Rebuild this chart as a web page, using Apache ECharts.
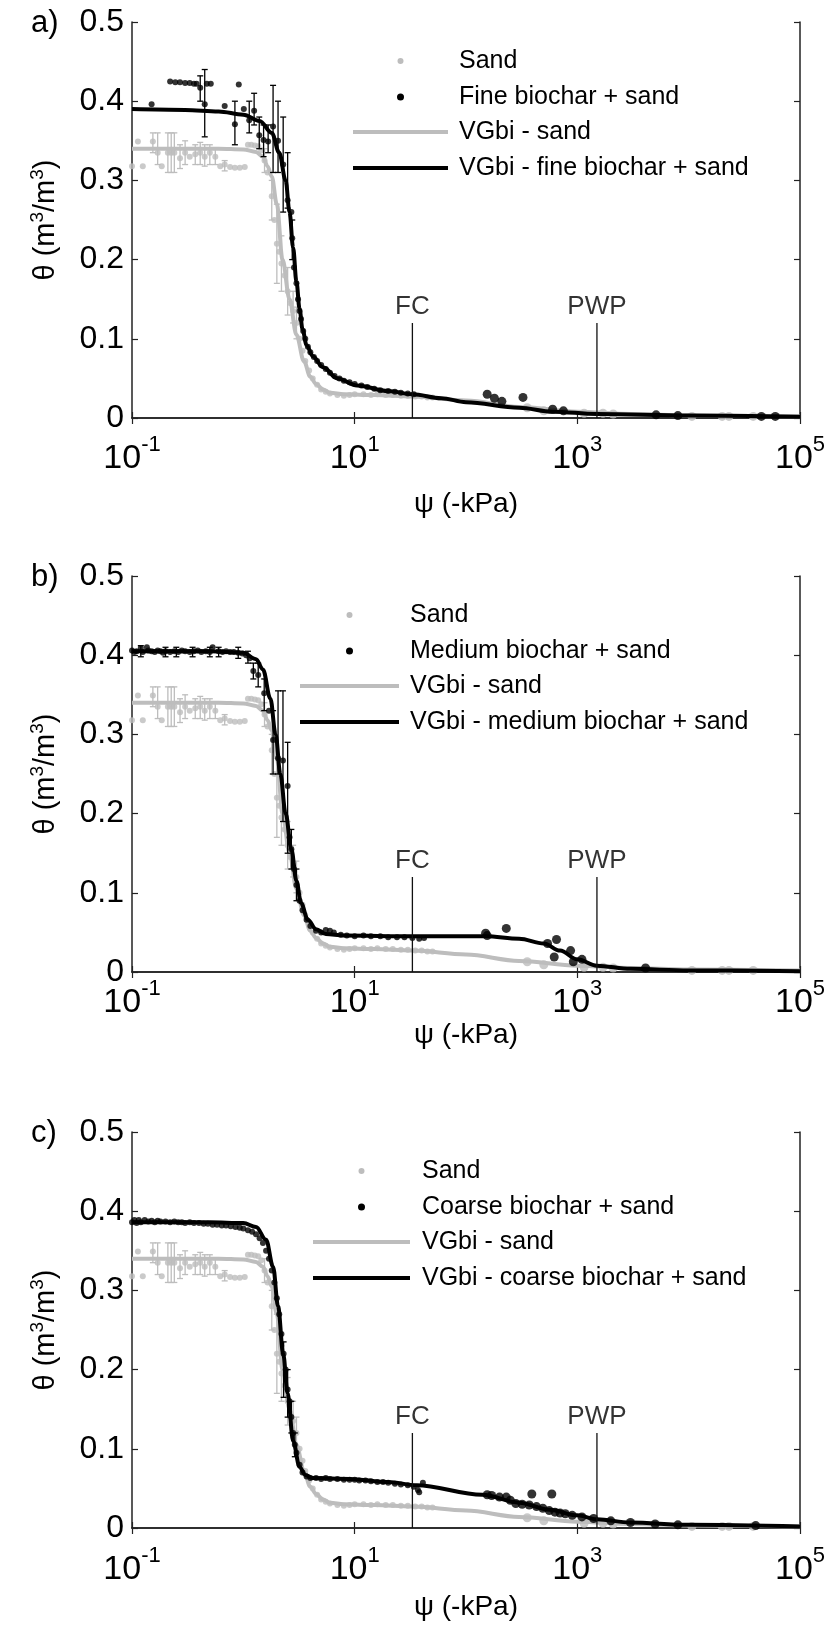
<!DOCTYPE html>
<html>
<head>
<meta charset="utf-8">
<script src="https://cdn.jsdelivr.net/npm/echarts@6/dist/echarts.min.js"></script>
<style>
  html, body { margin: 0; padding: 0; background: #fff; }
  #chart { width: 832px; height: 1629px; }
</style>
</head>
<body>
<div id="chart"></div>
<script>
// water retention: theta (m3/m3) vs psi (-kPa)
var panelLetters = ['a)', 'b)', 'c)'];
var biocharNames = ['Fine biochar + sand', 'Medium biochar + sand', 'Coarse biochar + sand'];
var fitNames = ['VGbi - fine biochar + sand', 'VGbi - medium biochar + sand', 'VGbi - coarse biochar + sand'];
var markerPsi = [33, 1500];
var markerNames = ['FC', 'PWP'];
var markerTop = 0.12;

// sand (same in every panel)
var sandPts = [[0.10,0.318],[0.113,0.349],[0.125,0.318],[0.154,0.349],[0.17,0.335],[0.185,0.318],[0.21,0.335],[0.225,0.335],
  [0.24,0.335],[0.27,0.328],[0.30,0.335],[0.33,0.330],[0.37,0.333],[0.41,0.335],[0.45,0.330],[0.50,0.335],[0.56,0.330],
  [0.62,0.318],[0.68,0.320],[0.76,0.317],[0.84,0.316],[0.93,0.316],[1.03,0.317],[1.10,0.345],[1.18,0.345],[1.27,0.344],
  [1.36,0.343],[1.45,0.338],[1.55,0.325],[1.65,0.31],[1.8,0.28],[1.9,0.25],[2.0,0.22],[2.1,0.21],[2.2,0.195],[2.35,0.18],
  [2.5,0.16],[2.65,0.145],[2.8,0.135],[3.0,0.12],[3.2,0.10],[3.4,0.085],[3.6,0.072],[3.9,0.06],[4.2,0.05],[4.6,0.042],
  [5.0,0.036],[5.5,0.033],[6,0.031],[7,0.029],[8,0.028],[9,0.029],[10,0.030],[12,0.030],[14,0.029],[16,0.030],[19,0.029],
  [22,0.029],[26,0.028],[30,0.028],[35,0.027],[40,0.027],[45,0.026],[50,0.026],
  [355,0.013],[500,0.009],[1150,0.006],[1700,0.006],[2100,0.005],[10700,0.002],[20000,0.002],[23000,0.002],[38000,0.002]];
var sandErr = [[0.154,0.335,0.36],[0.17,0.32,0.36],[0.21,0.31,0.36],[0.225,0.31,0.36],[0.24,0.31,0.36],[0.27,0.315,0.345],
  [0.30,0.32,0.35],[0.37,0.32,0.345],[0.41,0.32,0.348],[0.45,0.318,0.345],[0.50,0.32,0.345],[0.56,0.32,0.34],
  [0.68,0.312,0.325],[1.55,0.31,0.34],[1.8,0.25,0.30],[2.0,0.17,0.27],[2.2,0.16,0.23],[2.5,0.13,0.19],[2.8,0.12,0.16],[3.0,0.10,0.14]];
var sandFit = [[0.1,0.340],[0.3,0.340],[0.6,0.340],[1.0,0.339],[1.3,0.336],[1.5,0.330],[1.65,0.318],[1.8,0.305],[2.0,0.27],
  [2.25,0.20],[2.6,0.15],[3.0,0.105],[3.5,0.072],[4.0,0.052],[4.5,0.043],[5.2,0.036],[6,0.032],[8,0.030],[15,0.029],
  [33,0.027],[100,0.022],[300,0.014],[1000,0.008],[3000,0.005],[1e4,0.003],[1e5,0.002]];

// a) fine biochar
var finePts = [[0.15,0.396],[0.22,0.425],[0.245,0.424],[0.27,0.424],[0.30,0.423],[0.33,0.423],[0.36,0.422],[0.38,0.422],
  [0.41,0.417],[0.45,0.396],[0.47,0.422],[0.51,0.422],[0.68,0.394],[0.84,0.371],[0.91,0.421],[1.01,0.390],[1.13,0.376],
  [1.25,0.388],[1.39,0.357],[1.52,0.351],[1.67,0.349],[1.85,0.368],[2.05,0.350],[2.28,0.320],[2.5,0.275],[2.7,0.26],
  [2.75,0.227],[2.85,0.19],[3.0,0.17],[3.1,0.15],[3.2,0.135],[3.3,0.125],[3.45,0.11],[3.6,0.10],[3.8,0.09],[4.0,0.083],
  [4.3,0.077],[4.6,0.072],[5.0,0.067],[5.5,0.062],[6,0.057],[6.6,0.053],[7.3,0.05],[8,0.047],[9,0.045],[10,0.043],
  [11.5,0.041],[13,0.039],[15,0.037],[17,0.035],[20,0.034],[23,0.033],[26,0.032],[30,0.031],[34,0.030],
  [155,0.030],[180,0.025],[210,0.021],[325,0.026],[600,0.011],[750,0.009],[5100,0.004],[8000,0.003],[45000,0.002],[60000,0.002]];
var fineErr = [[0.41,0.40,0.432],[0.45,0.355,0.44],[0.84,0.345,0.40],[1.13,0.36,0.40],[1.25,0.37,0.41],[1.39,0.34,0.38],
  [1.52,0.33,0.37],[1.67,0.335,0.37],[1.85,0.31,0.42],[2.05,0.31,0.40],[2.28,0.26,0.38],[2.5,0.265,0.335],[2.75,0.2,0.25]];
var fineFit = [[0.1,0.390],[0.3,0.389],[0.6,0.387],[1.0,0.383],[1.4,0.375],[1.8,0.360],[2.1,0.335],[2.4,0.30],[2.6,0.26],
  [2.8,0.215],[3.0,0.172],[3.2,0.138],[3.4,0.112],[3.7,0.092],[4.2,0.078],[5.2,0.064],[7,0.050],[10.5,0.041],[20,0.034],
  [33,0.030],[60,0.025],[100,0.020],[300,0.013],[600,0.008],[1500,0.005],[1e4,0.003],[1e5,0.0015]];

// b) medium biochar
var mediumPts = [[0.10,0.406],[0.105,0.404],[0.11,0.405],[0.12,0.409],[0.125,0.404],[0.136,0.41],[0.14,0.406],[0.15,0.405],
  [0.16,0.404],[0.17,0.406],[0.18,0.405],[0.19,0.403],[0.2,0.405],[0.22,0.404],[0.24,0.405],[0.26,0.404],[0.28,0.406],
  [0.3,0.405],[0.33,0.404],[0.36,0.405],[0.39,0.406],[0.42,0.404],[0.46,0.405],[0.5,0.404],[0.53,0.41],[0.6,0.405],
  [0.65,0.404],[0.7,0.405],[0.76,0.404],[0.82,0.404],[0.9,0.403],[0.98,0.402],[1.06,0.400],[1.14,0.396],[1.23,0.380],
  [1.36,0.375],[1.54,0.352],[1.7,0.33],[1.85,0.293],[2.05,0.270],[2.27,0.267],[2.5,0.235],[2.6,0.17],[2.7,0.155],
  [2.85,0.13],[3.0,0.11],[3.2,0.09],[3.4,0.078],[3.7,0.066],[4.0,0.058],[4.5,0.052],[5,0.05],[5.5,0.053],[6,0.052],
  [6.5,0.05],[7.5,0.047],[8.5,0.046],[10,0.045],[12,0.046],[14,0.045],[17,0.045],[20,0.044],[24,0.044],[28,0.044],
  [33,0.043],[38,0.042],[42,0.043],
  [150,0.049],[155,0.046],[230,0.055],[540,0.036],[650,0.041],[620,0.019],[870,0.027],[920,0.013],[1100,0.016],[4100,0.005]];
var mediumErr = [[0.12,0.398,0.412],[0.2,0.398,0.41],[0.25,0.398,0.41],[0.35,0.398,0.41],[0.5,0.398,0.41],[0.6,0.398,0.41],
  [0.9,0.396,0.41],[1.1,0.39,0.405],[1.23,0.37,0.39],[1.36,0.36,0.39],[1.54,0.33,0.37],[1.85,0.25,0.33],[2.05,0.25,0.355],
  [2.27,0.19,0.355],[2.5,0.15,0.29],[2.7,0.13,0.18],[3.0,0.09,0.13]];
var mediumFit = [[0.1,0.405],[0.5,0.405],[1.0,0.403],[1.3,0.395],[1.5,0.382],[1.75,0.345],[1.95,0.30],[2.15,0.25],[2.4,0.20],
  [2.7,0.155],[3.0,0.115],[3.3,0.087],[3.8,0.066],[4.5,0.054],[5.5,0.048],[8,0.046],[33,0.045],[150,0.045],[300,0.042],
  [500,0.036],[700,0.027],[1000,0.016],[1500,0.008],[3000,0.004],[1e4,0.002],[1e5,0.001]];

// c) coarse biochar
var coarsePts = [[0.1,0.386],[0.105,0.389],[0.11,0.385],[0.115,0.389],[0.12,0.386],[0.13,0.389],[0.14,0.387],[0.15,0.388],
  [0.16,0.386],[0.17,0.388],[0.18,0.387],[0.2,0.387],[0.22,0.386],[0.24,0.387],[0.26,0.386],[0.28,0.386],[0.3,0.385],
  [0.33,0.386],[0.36,0.385],[0.4,0.385],[0.44,0.384],[0.48,0.384],[0.53,0.383],[0.58,0.383],[0.64,0.382],[0.7,0.382],
  [0.77,0.381],[0.85,0.38],[0.93,0.379],[1.0,0.378],[1.1,0.376],[1.2,0.374],[1.3,0.371],[1.4,0.366],[1.5,0.36],[1.6,0.35],
  [1.7,0.34],[1.8,0.325],[1.9,0.31],[2.0,0.29],[2.1,0.27],[2.2,0.245],[2.3,0.22],[2.4,0.2],[2.5,0.175],[2.6,0.16],
  [2.7,0.14],[2.8,0.12],[2.9,0.105],[3.0,0.095],[3.2,0.08],[3.4,0.07],[3.7,0.065],[4,0.063],[4.5,0.063],[5,0.062],
  [5.5,0.063],[6,0.062],[7,0.062],[8,0.061],[9,0.061],[10,0.061],[11,0.06],[12.5,0.06],[14,0.059],[16,0.058],[18,0.058],
  [20,0.057],[23,0.056],[26,0.055],[30,0.054],[34,0.052],[37,0.048],[38,0.045],[41,0.057],
  [155,0.042],[170,0.041],[200,0.039],[230,0.039],[250,0.035],[280,0.031],[320,0.030],[370,0.029],[390,0.043],
  [430,0.027],[490,0.025],[560,0.022],[590,0.043],[630,0.020],[700,0.019],[780,0.018],
  [900,0.016],[1100,0.014],[1400,0.012],[2000,0.009],[3000,0.007],[5000,0.005],[8000,0.004],[40000,0.003]];
var coarseErr = [[2.3,0.165,0.235],[2.5,0.14,0.2],[2.7,0.12,0.16],[2.9,0.09,0.12]];
var coarseFit = [[0.1,0.386],[0.5,0.386],[1.0,0.385],[1.3,0.380],[1.6,0.364],[1.85,0.33],[2.05,0.28],[2.28,0.22],[2.5,0.17],
  [2.8,0.11],[3.2,0.077],[3.6,0.067],[4.2,0.063],[9,0.062],[20,0.058],[36,0.054],[140,0.042],[300,0.032],[560,0.023],
  [1000,0.016],[1500,0.011],[3000,0.007],[1e4,0.004],[1e5,0.002]];

var biocharPts = [finePts, mediumPts, coarsePts];
var biocharErr = [fineErr, mediumErr, coarseErr];
var biocharFit = [fineFit, mediumFit, coarseFit];

var GRAY = '#bdbdbd';
var BLACK = '#000';
var FONT = 'Liberation Sans, Arial, sans-serif';
var panelTop = [22, 576, 1132];
var plotLeft = 132, plotW = 668, plotH = 396;
// x tick-label margin and axis-name gap differ a little between the three panels
var xLabelMargin = [16, 6, 17];
var xNameGap = [72, 48, 65];
// legend layout per panel: [lineStart, lineEnd, textX]
var legendPos = [[353, 448, 459], [300, 399, 410], [313, 410, 422]];
var legendRows = [39, 75, 110, 146];

var chart = echarts.init(document.getElementById('chart'));

var grids = [], xAxes = [], yAxes = [], series = [], graphics = [];

function errSeries(data, color, gi, z) {
  return {
    type: 'custom', xAxisIndex: gi * 2, yAxisIndex: gi * 2, data: data, z: z,
    encode: { x: 0, y: [1, 2] }, silent: true,
    renderItem: function (params, api) {
      var x = api.value(0), lo = api.value(1), hi = api.value(2);
      var a = api.coord([x, lo]), b = api.coord([x, hi]);
      var w = 3;
      var st = { stroke: color, lineWidth: 1.3 };
      return {
        type: 'group', children: [
          { type: 'line', shape: { x1: a[0], y1: a[1], x2: b[0], y2: b[1] }, style: st },
          { type: 'line', shape: { x1: a[0] - w, y1: a[1], x2: a[0] + w, y2: a[1] }, style: st },
          { type: 'line', shape: { x1: b[0] - w, y1: b[1], x2: b[0] + w, y2: b[1] }, style: st }
        ]
      };
    }
  };
}

function ptSize(v) { return v[0] > 100 ? 9 : 6; }

for (var i = 0; i < 3; i++) {
  grids.push({ left: plotLeft, top: panelTop[i], width: plotW, height: plotH });
  var axLine = { show: true, lineStyle: { color: '#222', width: 1.5 } };
  var tick = { show: true, inside: true, length: 6, lineStyle: { color: '#222', width: 1.2 } };
  xAxes.push({
    type: 'log', logBase: 10, gridIndex: i, min: 0.1, max: 100000, interval: 2,
    axisLine: axLine, axisTick: tick, splitLine: { show: false }, minorTick: { show: false },
    name: 'ψ (-kPa)', nameLocation: 'middle', nameGap: xNameGap[i],
    nameTextStyle: { fontFamily: FONT, fontSize: 28, color: '#000' },
    axisLabel: {
      margin: xLabelMargin[i], fontFamily: FONT, color: '#000',
      formatter: function (v) {
        var e = Math.round(Math.log(v) / Math.LN10);
        return '{b|10}{s|' + e + '}';
      },
      rich: {
        b: { fontSize: 34, fontFamily: FONT, color: '#000', lineHeight: 50 },
        s: { fontSize: 22, fontFamily: FONT, color: '#000', verticalAlign: 'top' }
      }
    }
  });
  xAxes.push({
    type: 'log', logBase: 10, gridIndex: i, position: 'top', min: 0.1, max: 100000, interval: 2,
    axisLine: axLine, axisTick: tick, axisLabel: { show: false }, splitLine: { show: false }
  });
  yAxes.push({
    type: 'value', gridIndex: i, min: 0, max: 0.5, interval: 0.1,
    axisLine: axLine, axisTick: tick, splitLine: { show: false },
    axisLabel: { margin: 8, fontFamily: FONT, fontSize: 32, color: '#000' },
    name: '{t|θ (m}{s|3}{t|/m}{s|3}{t|)}', nameLocation: 'middle', nameGap: 68, nameRotate: 90,
    nameTextStyle: {
      rich: {
        t: { fontFamily: FONT, fontSize: 29, color: '#000', lineHeight: 36 },
        s: { fontFamily: FONT, fontSize: 19, color: '#000', verticalAlign: 'top' }
      }
    }
  });
  yAxes.push({
    type: 'value', gridIndex: i, position: 'right', min: 0, max: 0.5, interval: 0.1,
    axisLine: axLine, axisTick: tick, axisLabel: { show: false }, splitLine: { show: false }
  });

  var xi = i * 2, yi = i * 2;
  // sand
  series.push({ type: 'scatter', name: 'Sand', xAxisIndex: xi, yAxisIndex: yi, data: sandPts,
    symbolSize: ptSize, itemStyle: { color: GRAY }, z: 2, silent: true });
  series.push(errSeries(sandErr, GRAY, i, 2));
  series.push({ type: 'line', name: 'VGbi - sand', xAxisIndex: xi, yAxisIndex: yi, data: sandFit,
    showSymbol: false, smooth: 0.35, smoothMonotone: 'x', lineStyle: { color: GRAY, width: 4 }, z: 3, silent: true });
  // biochar
  series.push({ type: 'scatter', name: biocharNames[i], xAxisIndex: xi, yAxisIndex: yi, data: biocharPts[i],
    symbolSize: ptSize, itemStyle: { color: BLACK }, z: 5, silent: true });
  series.push(errSeries(biocharErr[i], BLACK, i, 5));
  series.push({ type: 'line', name: fitNames[i], xAxisIndex: xi, yAxisIndex: yi, data: biocharFit[i],
    showSymbol: false, smooth: 0.35, smoothMonotone: 'x', lineStyle: { color: BLACK, width: 4 }, z: 4, silent: true });
  // FC / PWP
  for (var m = 0; m < markerPsi.length; m++) {
    series.push({ type: 'line', xAxisIndex: xi, yAxisIndex: yi, data: [[markerPsi[m], 0], [markerPsi[m], markerTop]],
      showSymbol: false, lineStyle: { color: '#111', width: 1.3 }, z: 6, silent: true });
    series.push({ type: 'scatter', xAxisIndex: xi, yAxisIndex: yi, data: [[markerPsi[m], markerTop]],
      symbolSize: 1, itemStyle: { color: 'rgba(0,0,0,0)' }, z: 6, silent: true,
      label: { show: true, position: 'top', distance: 3, formatter: markerNames[m],
        fontFamily: FONT, fontSize: 26, color: '#000' } });
  }

  // panel letter
  graphics.push({ type: 'text', left: 31, top: panelTop[i] - 14,
    style: { text: panelLetters[i], font: '31px ' + FONT, fill: '#000' } });
  // legend
  var lp = legendPos[i];
  var labels = ['Sand', biocharNames[i], 'VGbi - sand', fitNames[i]];
  for (var r = 0; r < 4; r++) {
    var y = panelTop[i] + legendRows[r];
    if (r < 2) {
      graphics.push({ type: 'circle', shape: { cx: (lp[0] + lp[1]) / 2, cy: y, r: r === 0 ? 3 : 3.5 },
        style: { fill: r === 0 ? GRAY : BLACK } });
    } else {
      graphics.push({ type: 'line', shape: { x1: lp[0], y1: y, x2: lp[1], y2: y },
        style: { stroke: r === 2 ? GRAY : BLACK, lineWidth: 4 } });
    }
    graphics.push({ type: 'text', x: lp[2], y: y,
      style: { text: labels[r], font: '25px ' + FONT, fill: '#000', verticalAlign: 'middle' } });
  }
}

chart.setOption({
  backgroundColor: '#fff',
  animation: false,
  grid: grids,
  xAxis: xAxes,
  yAxis: yAxes,
  series: series,
  graphic: graphics
});
</script>
</body>
</html>
